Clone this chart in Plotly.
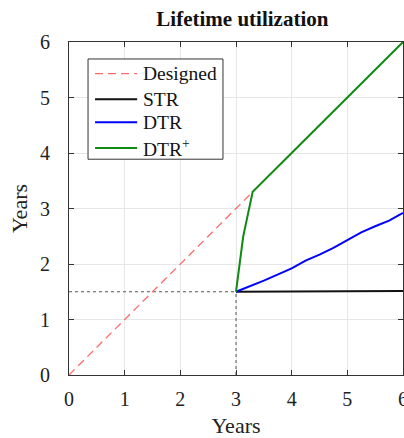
import plotly.graph_objects as go

# Lifetime utilization curves (years of lifetime consumed vs. years in service)
designed_x = [0, 3.3]
designed_y = [0, 3.3]

str_x = [3, 4, 5, 6]
str_y = [1.5, 1.505, 1.51, 1.515]

dtr_x = [3, 3.5, 4, 4.25, 4.5, 4.75, 5, 5.25, 5.5, 5.75, 6]
dtr_y = [1.5, 1.70, 1.92, 2.06, 2.17, 2.29, 2.43, 2.57, 2.68, 2.78, 2.92]

dtrp_x = [3, 3.07, 3.13, 3.3, 6]
dtrp_y = [1.5, 2.0, 2.5, 3.3, 6]

# reference lines marking the switch point
ref_h_x = [0, 3]
ref_h_y = [1.5, 1.5]
ref_v_x = [3, 3]
ref_v_y = [0, 1.5]

ticks = [0, 1, 2, 3, 4, 5, 6]

legend_names = ["Designed", "STR", "DTR", "DTR<sup>+</sup>"]

FONT = "Liberation Serif"
RED_DASH = dict(color="#ff6b6b", width=1.3, dash="8px,5px")
STYLES = [
    RED_DASH,
    dict(color="#111111", width=2),
    dict(color="#0000ff", width=2),
    dict(color="#118a11", width=2),
]

fig = go.Figure()
fig.add_trace(go.Scatter(x=ref_h_x, y=ref_h_y, mode="lines", showlegend=False,
                         line=dict(color="#555555", width=1, dash="dot")))
fig.add_trace(go.Scatter(x=ref_v_x, y=ref_v_y, mode="lines", showlegend=False,
                         line=dict(color="#555555", width=1, dash="dot")))
series = [(designed_x, designed_y), (str_x, str_y), (dtr_x, dtr_y), (dtrp_x, dtrp_y)]
for (sx, sy), name, style in zip(series, legend_names, STYLES):
    fig.add_trace(go.Scatter(x=sx, y=sy, mode="lines", name=name,
                             showlegend=False, line=style))

# Boxed legend in the upper-left corner of the axes (paper coordinates)
box_x0, box_x1, box_y0, box_y1 = 0.057, 0.461, 0.648, 0.949
row_y = [0.905, 0.828, 0.759, 0.682]
fig.add_shape(type="rect", xref="paper", yref="paper",
              x0=box_x0, x1=box_x1, y0=box_y0, y1=box_y1,
              line=dict(color="#333333", width=1), fillcolor="white", layer="above")
for yy, name, style in zip(row_y, legend_names, STYLES):
    fig.add_shape(type="line", xref="paper", yref="paper",
                  x0=0.078, x1=0.204, y0=yy, y1=yy, line=style, layer="above")
    fig.add_annotation(xref="paper", yref="paper", x=0.215, y=yy,
                       xanchor="left", yanchor="middle", showarrow=False,
                       text=name, font=dict(family=FONT, size=19.5, color="#111111"))

axis_common = dict(
    range=[0, 6], tickvals=ticks, ticks="inside", ticklen=5, tickcolor="#333333",
    showline=True, linecolor="#333333", linewidth=1, mirror="ticks",
    showgrid=True, gridcolor="#e6e6e6", gridwidth=1, zeroline=False,
    ticklabeloverflow="allow", automargin=False,
    tickfont=dict(family=FONT, size=20, color="#222222"),
)

fig.update_layout(
    width=404, height=438,
    margin=dict(l=69, r=1, t=42, b=63, autoexpand=False),
    paper_bgcolor="white", plot_bgcolor="white",
    title=dict(text="<b>Lifetime utilization</b>", x=0.60, xanchor="center",
               y=0.958, yanchor="middle",
               font=dict(family=FONT, size=21, color="#111111")),
    xaxis=dict(axis_common, ticklabelstandoff=6,
               title=dict(text="Years", standoff=9,
                          font=dict(family=FONT, size=22, color="#222222"))),
    yaxis=dict(axis_common, ticklabelstandoff=14,
               title=dict(text="Years", standoff=6,
                          font=dict(family=FONT, size=22, color="#222222"))),
    showlegend=False,
)

fig.write_html("out.html")
